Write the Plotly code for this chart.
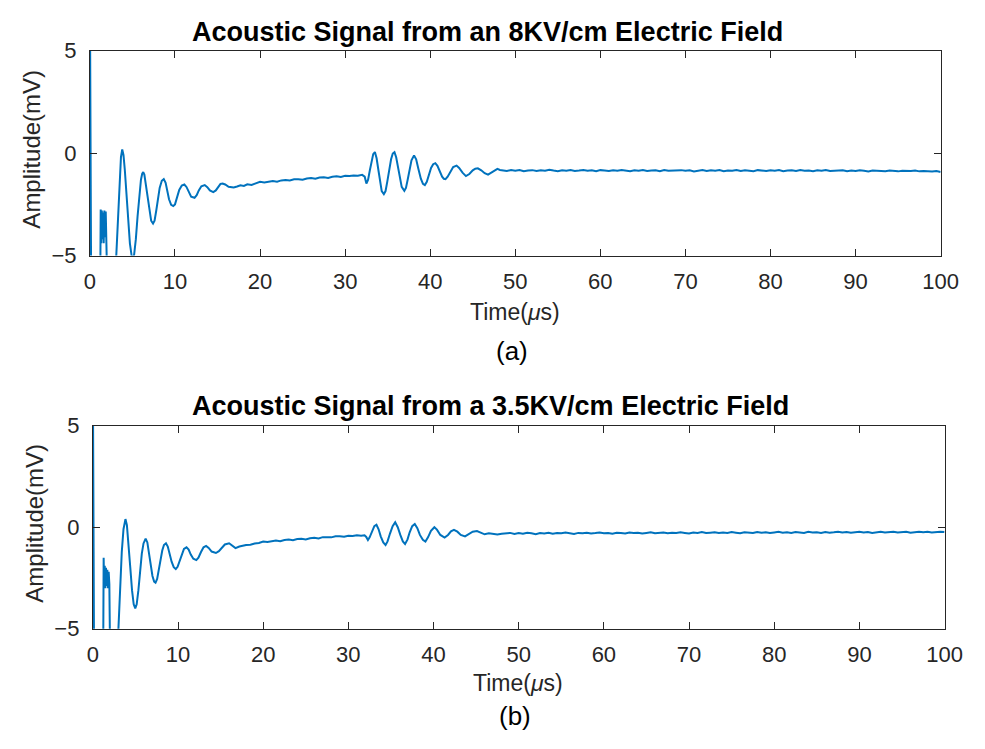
import plotly.graph_objects as go

# ---------------- data ----------------
# (a) 8 kV/cm : transient part, time in microseconds, amplitude in mV
t_a_early = [0.0, 0.15, 1.22, 1.27, 1.33, 1.40, 1.47, 1.54, 1.62, 1.70, 1.78, 1.86, 1.94, 2.02,
             2.5, 2.9, 3.1, 3.3, 3.5, 3.65, 3.8,
             3.95, 4.1, 4.3, 4.5, 4.7, 4.9, 5.05,
             5.2, 5.4, 5.6, 5.8, 6.0, 6.15, 6.27,
             6.4, 6.6, 6.8, 7.0, 7.2, 7.42,
             7.6, 7.8, 8.0, 8.2, 8.45, 8.68,
             8.9, 9.1, 9.3, 9.55, 9.8,
             10.0, 10.25, 10.5, 10.8, 11.1,
             11.35, 11.6, 11.9, 12.3,
             12.55, 12.8, 13.1, 13.5,
             13.8, 14.1, 14.5,
             14.8, 15.1, 15.35, 15.6,
             15.9, 16.3, 16.9,
             17.3, 17.7, 18.1, 18.5, 19.0, 19.5]
v_a_early = [8.0, -7.0, -6.0, -2.75, -4.4, -2.8, -4.2, -2.9, -4.4, -2.8, -4.1, -2.85, -4.3, -6.0,
             -8.0, -6.5, -5.0, -3.2, -1.2, -0.2, 0.18,
             -0.1, -0.8, -2.0, -3.3, -4.4, -5.0, -5.15,
             -4.95, -4.2, -3.1, -2.0, -1.3, -1.0, -0.93,
             -1.05, -1.6, -2.3, -2.9, -3.3, -3.44,
             -3.3, -2.8, -2.2, -1.7, -1.35, -1.27,
             -1.45, -1.85, -2.25, -2.52, -2.58,
             -2.5, -2.15, -1.8, -1.58, -1.53,
             -1.65, -1.9, -2.12, -2.18,
             -2.05, -1.82, -1.62, -1.56,
             -1.66, -1.82, -1.90,
             -1.82, -1.62, -1.50, -1.48,
             -1.53, -1.64, -1.68,
             -1.63, -1.57, -1.60, -1.52, -1.55, -1.46]
# (a) slow recovery 20 .. 32 us, every 0.5 us
v_a_drift = [-1.40, -1.43, -1.38, -1.36, -1.39, -1.33, -1.31, -1.34, -1.28, -1.27, -1.30, -1.24,
             -1.22, -1.25, -1.19, -1.18, -1.21, -1.15, -1.13, -1.16, -1.11, -1.12, -1.09, -1.10, -1.06]
# (a) second echo
t_a_echo = [32.3, 32.5, 32.7, 32.9, 33.1, 33.3, 33.5, 33.7, 33.9, 34.1, 34.3, 34.55, 34.75, 34.95,
            35.15, 35.4, 35.6, 35.8, 36.0, 36.2, 36.4, 36.65, 36.96, 37.15, 37.35, 37.55, 37.8, 38.1,
            38.35, 38.6, 38.9, 39.15, 39.37, 39.6, 39.85, 40.1, 40.35, 40.6, 40.85, 41.1, 41.4, 41.6,
            41.8, 42.05, 42.35, 42.7, 43.1, 43.4, 43.8, 44.2, 44.6, 45.0, 45.3, 45.6, 46.0, 46.4,
            46.8, 47.2, 47.6, 47.9, 48.2]
v_a_echo = [-1.15, -1.48, -1.30, -0.85, -0.35, -0.05, 0.05, -0.25, -0.80, -1.40, -1.85, -2.00, -1.85, -1.40,
            -0.85, -0.30, -0.02, 0.05, -0.20, -0.60, -1.15, -1.65, -1.84, -1.70, -1.30, -0.80, -0.35, -0.11,
            -0.30, -0.75, -1.25, -1.50, -1.56, -1.40, -1.05, -0.72, -0.54, -0.49, -0.62, -0.90, -1.15, -1.25,
            -1.27, -1.15, -0.90, -0.68, -0.61, -0.72, -0.95, -1.12, -1.02, -0.84, -0.76, -0.74, -0.84, -0.98,
            -1.05, -0.94, -0.82, -0.77, -0.82]
# (a) noisy baseline 48.5 .. 100 us, every 0.5 us
v_a_tail = [-0.84, -0.87, -0.83, -0.86, -0.82, -0.88, -0.85, -0.83, -0.87, -0.84,
            -0.86, -0.81, -0.85, -0.88, -0.84, -0.86, -0.83, -0.87, -0.85, -0.82,
            -0.86, -0.84, -0.88, -0.83, -0.85, -0.87, -0.84, -0.86, -0.82, -0.85,
            -0.88, -0.84, -0.86, -0.83, -0.87, -0.85, -0.84, -0.88, -0.82, -0.86,
            -0.85, -0.87, -0.83, -0.86, -0.84, -0.89, -0.85, -0.82, -0.87, -0.84,
            -0.86, -0.83, -0.88, -0.85, -0.86, -0.82, -0.87, -0.84, -0.86, -0.88,
            -0.83, -0.85, -0.87, -0.84, -0.86, -0.82, -0.88, -0.85, -0.84, -0.87,
            -0.83, -0.86, -0.85, -0.88, -0.84, -0.86, -0.83, -0.87, -0.85, -0.86,
            -0.84, -0.88, -0.85, -0.87, -0.84, -0.86, -0.89, -0.85, -0.87, -0.86,
            -0.88, -0.85, -0.87, -0.89, -0.86, -0.88, -0.87, -0.85, -0.89, -0.87,
            -0.88, -0.90, -0.87, -0.92]

# (b) 3.5 kV/cm
t_b_early = [0.0, 0.15, 1.22, 1.27, 1.33, 1.40, 1.47, 1.54, 1.62, 1.70, 1.78, 1.86, 1.94, 2.02,
             2.5, 2.85, 3.0, 3.2, 3.4, 3.6, 3.83,
             4.0, 4.2, 4.4, 4.6, 4.8, 4.98,
             5.15, 5.35, 5.55, 5.75, 5.95, 6.2,
             6.4, 6.6, 6.8, 7.0, 7.2, 7.36,
             7.55, 7.75, 7.95, 8.15, 8.35, 8.59,
             8.8, 9.0, 9.25, 9.5, 9.74,
             9.95, 10.2, 10.45, 10.7, 11.0,
             11.25, 11.5, 11.8, 12.15,
             12.4, 12.7, 13.0, 13.3,
             13.6, 13.95, 14.45,
             14.8, 15.15, 15.5, 16.0,
             16.35, 16.75,
             17.2, 17.6, 18.0, 18.5, 19.0, 19.5]
v_b_early = [8.0, -7.0, -6.0, -1.5, -2.9, -1.9, -3.0, -2.0, -2.9, -2.1, -3.0, -2.2, -2.8, -6.0,
             -8.0, -6.5, -5.0, -3.0, -1.2, -0.1, 0.40,
             0.1, -0.8, -2.0, -3.1, -3.8, -4.0,
             -3.8, -3.1, -2.1, -1.3, -0.8, -0.56,
             -0.75, -1.3, -1.9, -2.4, -2.68, -2.73,
             -2.55, -2.1, -1.55, -1.15, -0.88, -0.79,
             -0.95, -1.3, -1.7, -1.97, -2.06,
             -1.95, -1.62, -1.28, -1.07, -0.99,
             -1.10, -1.35, -1.55, -1.62,
             -1.50, -1.22, -0.99, -0.92,
             -1.02, -1.20, -1.27,
             -1.18, -1.00, -0.85, -0.79,
             -0.92, -1.03,
             -0.95, -0.90, -0.88, -0.86, -0.80, -0.78]
# (b) slow recovery 20 .. 31.5 us, every 0.5 us
v_b_drift = [-0.71, -0.73, -0.68, -0.66, -0.69, -0.63, -0.61, -0.64, -0.58, -0.57, -0.60, -0.54,
             -0.52, -0.55, -0.49, -0.48, -0.50, -0.45, -0.44, -0.47, -0.42, -0.43, -0.40, -0.42]
t_b_echo = [31.9, 32.1, 32.3, 32.5, 32.8, 33.05, 33.3, 33.55, 33.8, 34.1, 34.37, 34.6, 34.9, 35.2,
            35.5, 35.8, 36.1, 36.4, 36.66, 36.95, 37.2, 37.5, 37.8, 38.1, 38.4, 38.75, 39.05, 39.35,
            39.7, 40.1, 40.4, 40.8, 41.3, 41.7, 42.05, 42.4, 42.8, 43.2, 43.7, 44.1, 44.6, 45.1,
            45.5, 46.0, 46.5, 47.0, 47.5, 48.0]
v_b_echo = [-0.40, -0.48, -0.63, -0.50, -0.15, 0.05, 0.12, -0.10, -0.45, -0.75, -0.88, -0.70, -0.30, 0.05,
            0.24, 0.00, -0.38, -0.70, -0.83, -0.60, -0.25, 0.05, 0.16, -0.05, -0.38, -0.62, -0.71, -0.50,
            -0.18, 0.00, -0.12, -0.38, -0.51, -0.38, -0.20, -0.13, -0.22, -0.38, -0.45, -0.35, -0.22, -0.19,
            -0.27, -0.35, -0.30, -0.33, -0.36, -0.32]
v_b_tail = [-0.31, -0.28, -0.33, -0.29, -0.32, -0.27, -0.30, -0.34, -0.29, -0.31,
            -0.27, -0.32, -0.29, -0.30, -0.26, -0.31, -0.33, -0.28, -0.30, -0.27,
            -0.31, -0.29, -0.26, -0.30, -0.28, -0.32, -0.27, -0.29, -0.31, -0.26,
            -0.29, -0.27, -0.31, -0.28, -0.25, -0.30, -0.28, -0.26, -0.30, -0.27,
            -0.29, -0.25, -0.28, -0.31, -0.26, -0.28, -0.24, -0.29, -0.27, -0.25,
            -0.29, -0.26, -0.28, -0.24, -0.27, -0.30, -0.25, -0.27, -0.29, -0.24,
            -0.27, -0.25, -0.29, -0.26, -0.23, -0.27, -0.25, -0.28, -0.24, -0.26,
            -0.28, -0.23, -0.26, -0.25, -0.28, -0.24, -0.27, -0.25, -0.22, -0.26,
            -0.24, -0.27, -0.25, -0.23, -0.26, -0.24, -0.28, -0.25, -0.23, -0.26,
            -0.24, -0.22, -0.26, -0.25, -0.23, -0.27, -0.24, -0.22, -0.25, -0.23,
            -0.26, -0.24, -0.22, -0.24]

x_ticks = [0, 10, 20, 30, 40, 50, 60, 70, 80, 90, 100]
y_ticks = [-5, 0, 5]
titles = ["Acoustic Signal from an 8KV/cm Electric Field",
          "Acoustic Signal from a 3.5KV/cm Electric Field"]
panel_labels = ["(a)", "(b)"]

# ---------------- assemble series ----------------
def grid(start, n, step=0.5):
    return [round(start + i * step, 3) for i in range(n)]

t_a = t_a_early + grid(20.0, len(v_a_drift)) + t_a_echo + grid(48.5, len(v_a_tail))
v_a = v_a_early + v_a_drift + v_a_echo + v_a_tail
t_b = t_b_early + grid(20.0, len(v_b_drift)) + t_b_echo + grid(48.5, len(v_b_tail))
v_b = v_b_early + v_b_drift + v_b_echo + v_b_tail

W, H = 985, 749
LINE = "#0072BD"
AX = "#262626"
FONT = "Liberation Sans, Arial, sans-serif"

fig = go.Figure()
fig.add_trace(go.Scatter(x=t_a, y=v_a, mode="lines", line=dict(color=LINE, width=2),
                         xaxis="x", yaxis="y", showlegend=False))
fig.add_trace(go.Scatter(x=t_b, y=v_b, mode="lines", line=dict(color=LINE, width=2),
                         xaxis="x2", yaxis="y2", showlegend=False))

def xax(domain, anchor):
    return dict(domain=domain, anchor=anchor, range=[0, 100], tickvals=x_ticks,
                ticks="inside", ticklen=7, tickwidth=1, tickcolor=AX,
                showline=True, linecolor=AX, linewidth=1, mirror="ticks",
                showgrid=False, zeroline=False, ticklabelstandoff=6,
                tickfont=dict(family=FONT, size=22, color=AX))

def yax(domain, anchor):
    return dict(domain=domain, anchor=anchor, range=[-5, 5], tickvals=y_ticks,
                ticks="inside", ticklen=7, tickwidth=1, tickcolor=AX,
                showline=True, linecolor=AX, linewidth=1, mirror="ticks",
                showgrid=False, zeroline=False, ticklabelstandoff=8,
                tickfont=dict(family=FONT, size=22, color=AX))

fig.update_layout(
    width=W, height=H, margin=dict(l=0, r=0, t=0, b=0),
    paper_bgcolor="white", plot_bgcolor="white",
    xaxis=xax([86 / W, 958 / W], "y"),
    yaxis=yax([1 - 252 / H, 1 - 40 / H], "x"),
    xaxis2=xax([89 / W, 962 / W], "y2"),
    yaxis2=yax([1 - 638 / H, 1 - 428 / H], "x2"),
)

def ann(text, x, y, size, bold=False, angle=0, color=AX):
    fig.add_annotation(text=f"<b>{text}</b>" if bold else text, x=x / W, y=1 - y / H,
                       xref="paper", yref="paper", showarrow=False, textangle=angle,
                       xanchor="center", yanchor="middle",
                       font=dict(family=FONT, size=size, color=color))

ann(titles[0], 494, 21, 27, bold=True, color="#000000")
ann(titles[1], 497, 408, 27, bold=True, color="#000000")
ann("Amplitude(mV)", 26, 142, 24, angle=-90)
ann("Amplitude(mV)", 29, 529, 24, angle=-90)
ann("Time(<i>μ</i>s)", 522, 310, 23)
ann("Time(<i>μ</i>s)", 525, 694, 23)
ann(panel_labels[0], 519, 351, 26, color="#000000")
ann(panel_labels[1], 522, 728, 26, color="#000000")

fig.write_html("out.html")
